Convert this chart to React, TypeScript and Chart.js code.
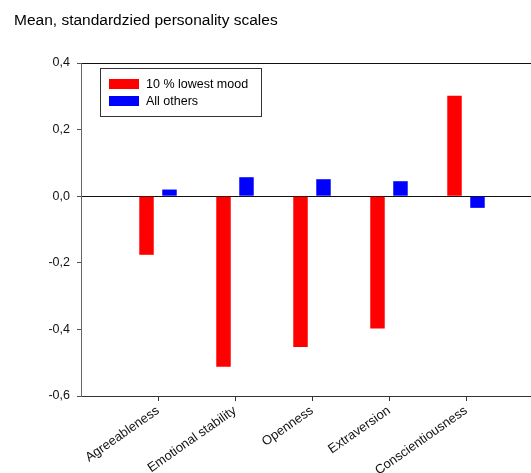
import React, { useEffect, useRef } from "react";
import { Chart, registerables } from "chart.js";

Chart.register(...registerables);

const titleText = "Mean, standardzied personality scales";
const categories = ["", "Agreeableness", "Emotional stability", "Openness", "Extraversion", "Conscientiousness", ""];
const lowestMood = [null, -0.176, -0.512, -0.453, -0.397, 0.302, null];
const allOthers = [null, 0.02, 0.057, 0.051, 0.045, -0.035, null];
const seriesNames = ["10 % lowest mood", "All others"];
const seriesColors = ["#ff0000", "#0000ff"];
const yMin = -0.6;
const yMax = 0.4;
const yStep = 0.2;

const FONT = "'Liberation Sans', Arial, sans-serif";

const overlayPlugin = {
  id: "overlay",
  afterDraw(chart: any) {
    const ctx = chart.ctx;
    ctx.save();
    // title
    ctx.fillStyle = "#000";
    ctx.font = `15.5px ${FONT}`;
    ctx.textAlign = "left";
    ctx.textBaseline = "alphabetic";
    ctx.fillText(titleText, 14, 25);
    // legend box
    ctx.strokeStyle = "#333";
    ctx.lineWidth = 1;
    ctx.strokeRect(100.5, 68.5, 161, 48);
    ctx.font = `12.5px ${FONT}`;
    ctx.textBaseline = "middle";
    chart.data.datasets.forEach((ds: any, i: number) => {
      const y = 79 + i * 17;
      ctx.fillStyle = ds.backgroundColor;
      ctx.fillRect(109, y, 30, 10);
      ctx.fillStyle = "#000";
      ctx.fillText(ds.label, 146, y + 5.5);
    });
    ctx.restore();
  },
};

export default function App() {
  const ref = useRef<HTMLCanvasElement>(null);
  useEffect(() => {
    if (!ref.current) return;
    const chart = new Chart(ref.current, {
      type: "bar",
      data: {
        labels: categories,
        datasets: [
          { label: seriesNames[0], data: lowestMood as any, backgroundColor: seriesColors[0], borderWidth: 0 },
          { label: seriesNames[1], data: allOthers as any, backgroundColor: seriesColors[1], borderWidth: 0 },
        ],
      },
      options: {
        responsive: false,
        animation: false,
        devicePixelRatio: 1,
        layout: { padding: { left: 0, top: 63, right: 17, bottom: 0 } },
        plugins: { legend: { display: false }, title: { display: false }, tooltip: { enabled: false } },
        datasets: { bar: { categoryPercentage: 0.597, barPercentage: 0.63 } },
        scales: {
          x: {
            type: "category",
            offset: false,
            afterFit: (s: any) => { s.height = 77; },
            grid: {
              display: true,
              offset: false,
              drawOnChartArea: false,
              tickLength: 5,
              tickColor: (c: any) => (c.index === 0 ? "rgba(0,0,0,0)" : "#333"),
            },
            border: { color: "#333" },
            ticks: {
              autoSkip: false,
              minRotation: 35,
              maxRotation: 35,
              padding: 2,
              color: "#111",
              font: { family: FONT, size: 13 },
            },
          },
          y: {
            min: yMin,
            max: yMax,
            afterFit: (s: any) => { s.width = 81; },
            grid: {
              drawOnChartArea: true,
              tickLength: 4,
              tickColor: "#555",
              color: (c: any) => {
                const v = c.tick ? c.tick.value : NaN;
                if (Math.abs(v) < 1e-9 || Math.abs(v - yMax) < 1e-9) return "#111";
                return "rgba(0,0,0,0)";
              },
            },
            border: { color: "#666" },
            ticks: {
              stepSize: yStep,
              padding: 7,
              color: "#111",
              font: { family: FONT, size: 12.5 },
              callback: (v: any) => Number(v).toFixed(1).replace(".", ","),
            },
          },
        },
      },
      plugins: [overlayPlugin],
    });
    return () => chart.destroy();
  }, []);
  return (
    <div style={{ position: "absolute", left: 0, top: 0, width: 531, height: 473, overflow: "hidden", background: "#fff" }}>
      <canvas ref={ref} width={560} height={473} style={{ display: "block", width: 560, height: 473 }} />
    </div>
  );
}
